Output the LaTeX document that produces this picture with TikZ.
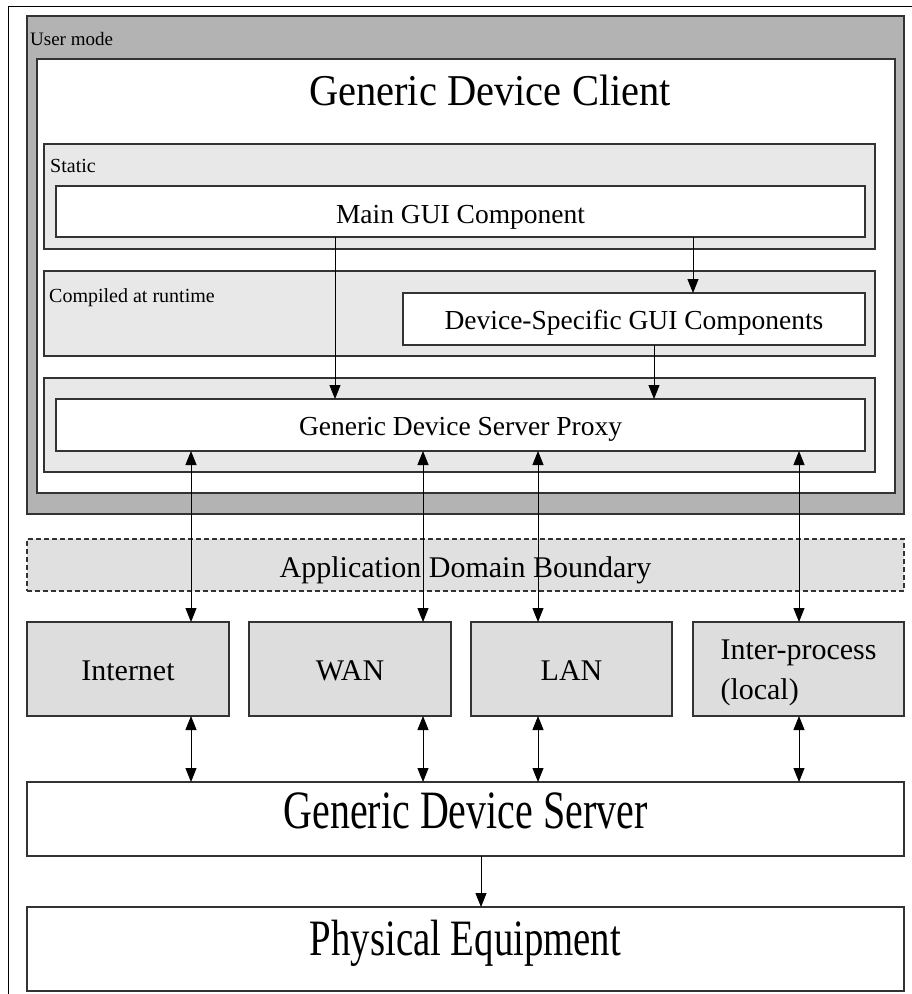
\documentclass[tikz,border=0pt]{standalone}
\usepackage{fontspec}
\usepackage{graphicx}
\setmainfont{Liberation Serif}
\usetikzlibrary{arrows.meta}

\definecolor{usergray}{HTML}{B3B3B3}
\definecolor{panelgray}{HTML}{E8E8E8}
\definecolor{boundgray}{HTML}{E0E0E0}
\definecolor{netgray}{HTML}{DDDDDD}
\definecolor{edgegray}{HTML}{333333}

\newcommand{\fs}[1]{\fontsize{#1}{#1}\selectfont}
% text whose baseline sits #1 below the centre of its box
\newcommand{\bl}[2]{\raisebox{-#1}[0pt][0pt]{#2}}

\tikzset{
  box/.style={draw=edgegray, line width=1.1pt, inner sep=0pt, outer sep=0pt},
  panel/.style={box, fill=panelgray},
  whitebox/.style={box, fill=white},
  netbox/.style={box, fill=netgray, font=\fs{30}},
  medtext/.style={font=\fs{27.5}},
  small/.style={font=\fs{20}, inner sep=0pt, anchor=base west},
  tip/.tip={Triangle[width=11pt,length=14pt]},
  arr/.style={line width=0.9pt, -tip},
  biarr/.style={line width=0.9pt, tip-tip},
}

\begin{document}
\begin{tikzpicture}[x=1pt, y=-1pt]
\useasboundingbox (0,0) rectangle (912,994);

% page frame
\draw[line width=0.9pt] (8,994) -- (8,6) -- (912,6);

% user mode area
\node[box, fill=usergray, minimum width=877pt, minimum height=498pt] (usermode) at (465.5,265) {};
\node[small, font=\fs{19}] (userlbl) at (30,45) {User mode};
\node[whitebox, minimum width=858pt, minimum height=434pt] (client) at (466,276) {};
\node[inner sep=0pt, anchor=base, font=\fs{44}] (clientlbl) at (490,105) {\scalebox{0.92}[1]{Generic Device Client}};

% static layer
\node[panel, minimum width=831pt, minimum height=105pt] (static) at (459.5,196.5) {};
\node[small] (staticlbl) at (50,172) {Static};
\node[whitebox, medtext, minimum width=809pt, minimum height=51pt] (maingui) at (460.5,211.5) {\bl{11.5pt}{Main GUI Component}};

% runtime-compiled layer
\node[panel, minimum width=831pt, minimum height=85pt] (compiled) at (459.5,313.5) {};
\node[small] (compiledlbl) at (49,302) {Compiled at runtime};
\node[whitebox, medtext, minimum width=462pt, minimum height=52pt] (devgui) at (634,319) {\bl{10pt}{Device-Specific GUI Components}};

% server proxy layer
\node[panel, minimum width=831pt, minimum height=94pt] (proxyframe) at (459.5,425) {};
\node[whitebox, medtext, minimum width=809pt, minimum height=52pt] (proxy) at (460.5,425) {\bl{10pt}{Generic Device Server Proxy}};

% application domain boundary
\node[box, fill=boundgray, dash pattern=on 5pt off 3pt, minimum width=877pt, minimum height=52pt, font=\fs{30}] (boundary) at (465.5,565) {\bl{12pt}{Application Domain Boundary}};

% transports
\node[netbox, minimum width=202pt, minimum height=94pt] (internet) at (128,669) {\bl{11pt}{Internet}};
\node[netbox, minimum width=202pt, minimum height=94pt] (wan) at (350,669) {\bl{11pt}{WAN}};
\node[netbox, minimum width=201pt, minimum height=94pt] (lan) at (571.5,669) {\bl{11pt}{LAN}};
\node[netbox, minimum width=211pt, minimum height=94pt, font=\fontsize{30}{40}\selectfont] (ipc) at (798.5,669)
  {\bl{-10pt}{\begin{tabular}[t]{@{}l@{}}Inter-process\\(local)\end{tabular}}};

% server and equipment
\node[whitebox, minimum width=877pt, minimum height=74pt, font=\fs{54}] (server) at (465.5,819) {\bl{9pt}{\scalebox{0.74}[1]{Generic Device Server}}};
\node[whitebox, minimum width=877pt, minimum height=84pt, font=\fs{51}] (equip) at (465.5,949) {\bl{6pt}{\scalebox{0.76}[1]{Physical Equipment}}};

% connector columns
\coordinate (cA) at (335,0);
\coordinate (cB) at (693,0);
\coordinate (cC) at (654,0);
\coordinate (c1) at (191,0);
\coordinate (c2) at (423,0);
\coordinate (c3) at (538,0);
\coordinate (c4) at (799,0);
\coordinate (c5) at (481,0);

% client-side dependencies
\draw[arr] (maingui.south -| cA) -- (proxy.north -| cA);
\draw[arr] (maingui.south -| cB) -- (devgui.north -| cB);
\draw[arr] (devgui.south -| cC) -- (proxy.north -| cC);

% proxy to transports
\draw[biarr] (proxy.south -| c1) -- (internet.north -| c1);
\draw[biarr] (proxy.south -| c2) -- (wan.north -| c2);
\draw[biarr] (proxy.south -| c3) -- (lan.north -| c3);
\draw[biarr] (proxy.south -| c4) -- (ipc.north -| c4);

% transports to server
\draw[biarr] (internet.south -| c1) -- (server.north -| c1);
\draw[biarr] (wan.south -| c2) -- (server.north -| c2);
\draw[biarr] (lan.south -| c3) -- (server.north -| c3);
\draw[biarr] (ipc.south -| c4) -- (server.north -| c4);

% server to equipment
\draw[arr] (server.south -| c5) -- (equip.north -| c5);
\end{tikzpicture}
\end{document}
